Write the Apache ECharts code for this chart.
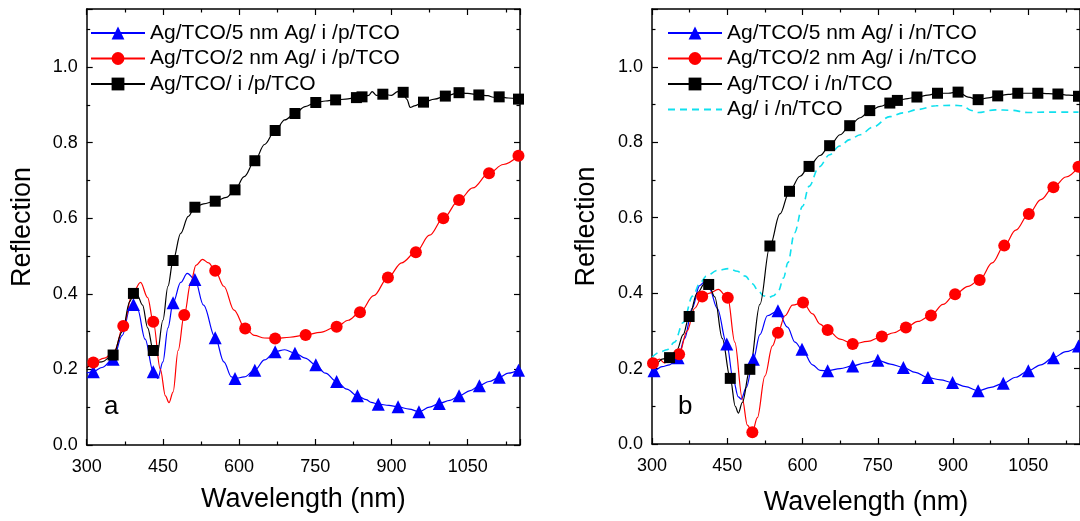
<!DOCTYPE html>
<html>
<head>
<meta charset="utf-8">
<script src="https://cdn.jsdelivr.net/npm/echarts@6/dist/echarts.min.js"></script>
<style>html,body{margin:0;padding:0;background:#fff}#c{width:1080px;height:521px}</style>
</head>
<body>
<div id="c"></div>
<script>
// ---------- DATA ----------
const xTicks = [300, 450, 600, 750, 900, 1050];
const yTicks = [0.0, 0.2, 0.4, 0.6, 0.8, 1.0];

const namesA = ['Ag/TCO/5 nm Ag/ i /p/TCO', 'Ag/TCO/2 nm Ag/ i /p/TCO', 'Ag/TCO/ i /p/TCO'];
const namesB = ['Ag/TCO/5 nm Ag/ i /n/TCO', 'Ag/TCO/2 nm Ag/ i /n/TCO', 'Ag/TCO/ i /n/TCO', 'Ag/ i /n/TCO'];

// panel a, 5 nm Ag (blue triangles)
const a5Wl = [300,313,330,352,370,385,392,400,415,431,440,450,460,470,485,498,513,530,553,570,585,592,610,631,650,671,690,710,730,751,770,792,812,833,850,860,874,895,913,935,954,975,994,1015,1033,1055,1073,1092,1112,1130,1150];
const a5R  = [0.19,0.194,0.205,0.227,0.29,0.36,0.372,0.36,0.28,0.194,0.176,0.22,0.31,0.376,0.43,0.454,0.438,0.37,0.284,0.22,0.18,0.176,0.18,0.198,0.225,0.247,0.252,0.243,0.23,0.212,0.19,0.168,0.148,0.13,0.12,0.113,0.108,0.105,0.101,0.095,0.088,0.1,0.11,0.118,0.13,0.144,0.157,0.168,0.179,0.19,0.198];
const a5Mk = [313,352,392,431,470,513,553,592,631,671,710,751,792,833,874,913,954,994,1033,1073,1112,1150];

// panel a, 2 nm Ag (red circles)
const a2Wl = [300,313,335,355,372,390,406,420,431,445,455,462,470,480,492,505,515,528,540,553,570,590,612,630,650,671,700,731,760,792,815,838,865,893,920,948,975,1002,1033,1060,1092,1120,1150];
const a2R  = [0.205,0.218,0.23,0.25,0.315,0.4,0.43,0.39,0.326,0.2,0.13,0.112,0.14,0.25,0.344,0.43,0.475,0.491,0.482,0.461,0.42,0.357,0.308,0.29,0.283,0.282,0.285,0.291,0.298,0.313,0.33,0.351,0.395,0.443,0.482,0.51,0.555,0.6,0.648,0.68,0.719,0.742,0.765];
const a2Mk = [313,372,431,492,553,612,671,731,792,838,893,948,1002,1033,1092,1150];

// panel a, no Ag interlayer (black squares)
const a0Wl = [300,330,352,370,385,392,400,410,420,431,439,450,460,470,485,500,513,530,553,575,592,610,631,650,671,690,710,730,751,770,790,810,831,842,855,862,870,883,900,912,923,930,937,945,963,985,1006,1033,1050,1072,1090,1100,1112,1130,1150];
const a0R  = [0.205,0.22,0.238,0.3,0.38,0.401,0.395,0.37,0.31,0.25,0.243,0.33,0.42,0.488,0.56,0.605,0.629,0.638,0.645,0.655,0.675,0.71,0.752,0.795,0.832,0.86,0.877,0.895,0.906,0.91,0.913,0.915,0.919,0.921,0.925,0.935,0.925,0.928,0.925,0.935,0.933,0.915,0.893,0.897,0.907,0.915,0.923,0.932,0.93,0.926,0.924,0.92,0.921,0.918,0.915];
const a0Mk = [352,392,431,470,513,553,592,631,671,710,751,790,831,842,883,923,963,1006,1033,1072,1112,1150];

// panel b, 5 nm Ag (blue triangles)
const b5Wl = [300,304,320,335,352,365,380,395,405,415,430,449,462,472,478,488,502,515,530,551,570,585,599,620,635,650,675,700,725,750,775,801,825,850,875,899,925,950,975,1000,1025,1050,1075,1100,1125,1150];
const b5R  = [0.19,0.194,0.205,0.21,0.229,0.28,0.36,0.42,0.43,0.41,0.36,0.265,0.17,0.125,0.119,0.15,0.225,0.29,0.34,0.353,0.31,0.27,0.251,0.21,0.195,0.194,0.2,0.207,0.215,0.222,0.212,0.203,0.19,0.176,0.17,0.163,0.152,0.141,0.15,0.161,0.177,0.194,0.21,0.229,0.245,0.26];
const b5Mk = [304,352,400,449,502,551,599,650,700,750,801,850,899,950,1000,1050,1100,1150];

// panel b, 2 nm Ag (red circles)
const b2Wl = [300,302,315,325,340,354,370,385,400,415,432,451,465,480,490,500,510,525,540,551,565,580,601,620,635,650,675,700,730,758,782,806,830,856,880,904,930,953,978,1002,1025,1051,1075,1100,1125,1150];
const b2R  = [0.21,0.214,0.225,0.215,0.23,0.238,0.3,0.36,0.391,0.4,0.41,0.388,0.27,0.12,0.05,0.031,0.07,0.18,0.26,0.295,0.34,0.368,0.375,0.345,0.318,0.302,0.278,0.265,0.272,0.285,0.295,0.309,0.325,0.341,0.37,0.397,0.418,0.435,0.48,0.526,0.567,0.61,0.648,0.681,0.708,0.735];
const b2Mk = [302,354,400,451,500,551,601,650,700,758,806,856,904,953,1002,1051,1100,1150];

// panel b, no Ag interlayer (black squares)
const b0Wl = [300,310,320,335,350,362,374,390,405,413,425,440,456,466,472,480,495,515,535,555,574,595,613,635,654,675,694,715,734,755,774,789,810,828,850,869,890,910,930,950,970,989,1010,1029,1050,1069,1090,1109,1130,1150];
const b0R  = [0.205,0.215,0.225,0.229,0.25,0.29,0.338,0.4,0.425,0.423,0.39,0.28,0.174,0.1,0.082,0.11,0.198,0.37,0.525,0.61,0.67,0.71,0.736,0.765,0.791,0.82,0.844,0.865,0.884,0.895,0.904,0.911,0.916,0.92,0.925,0.93,0.93,0.933,0.92,0.913,0.918,0.923,0.927,0.93,0.93,0.93,0.929,0.928,0.925,0.922];
const b0Mk = [335,374,413,456,495,535,574,613,654,694,734,774,789,828,869,910,950,989,1029,1069,1109,1150];

// panel b, Ag/ i /n/TCO (cyan dashed, no markers)
const bcWl = [300,316,330,345,362,381,395,408,430,453,470,486,500,512,522,532,542,552,562,571,584,600,613,633,654,674,694,715,740,774,800,830,866,900,919,935,950,984,1015,1049,1090,1150];
const bcR  = [0.23,0.244,0.25,0.27,0.322,0.392,0.425,0.445,0.46,0.465,0.458,0.445,0.425,0.406,0.393,0.388,0.393,0.406,0.44,0.481,0.56,0.63,0.683,0.735,0.767,0.79,0.807,0.82,0.84,0.868,0.878,0.887,0.897,0.898,0.897,0.885,0.879,0.886,0.885,0.879,0.88,0.88];
const bcMk = [];

// ---------- CHART ----------
const FONT = '"Liberation Sans", Arial, sans-serif';
const X_MAX = 1153, Y_MAX = 1.1534;
const GW = 433.3, GH = 436, GT = 9;
const gridLefts = [86.7, 652];

function build(wl, r, mk) {
  return wl.map((w, i) => mk.indexOf(w) >= 0 ? {value: [w, r[i]]} : {value: [w, r[i]], symbol: 'none'});
}

const chart = echarts.init(document.getElementById('c'), null, {renderer: 'canvas'});

const grids = gridLefts.map(l => ({left: l, top: GT, width: GW, height: GH, containLabel: false}));

function xAx(gi, top) {
  return {
    type: 'value', gridIndex: gi, position: top ? 'top' : 'bottom',
    min: 300, max: X_MAX, interval: 150,
    name: top ? '' : 'Wavelength (nm)', nameLocation: 'middle', nameGap: gi === 0 ? 41 : 45,
    nameTextStyle: {fontFamily: FONT, fontSize: 27, color: '#000'},
    axisLine: {show: true, onZero: false, lineStyle: {color: '#000', width: 1.5}},
    axisTick: {show: true, inside: true, length: 6, lineStyle: {color: '#000', width: 1.2}},
    minorTick: {show: true, splitNumber: 2, length: 3.5, lineStyle: {color: '#000', width: 1.2}},
    axisLabel: {show: !top, margin: 13, fontFamily: FONT, fontSize: 18, color: '#000',
      showMaxLabel: false,
      formatter: v => xTicks.indexOf(v) >= 0 ? String(v) : ''},
    splitLine: {show: false}
  };
}
function yAx(gi, right) {
  return {
    type: 'value', gridIndex: gi, position: right ? 'right' : 'left',
    min: 0, max: Y_MAX, interval: 0.2,
    name: right ? '' : 'Reflection', nameLocation: 'middle', nameGap: gi === 0 ? 51 : 52,
    nameTextStyle: {fontFamily: FONT, fontSize: 27, color: '#000'},
    axisLine: {show: true, onZero: false, lineStyle: {color: '#000', width: 1.5}},
    axisTick: {show: true, inside: true, length: 6, lineStyle: {color: '#000', width: 1.2}},
    minorTick: {show: true, splitNumber: 2, length: 3.5, lineStyle: {color: '#000', width: 1.2}},
    axisLabel: {show: !right, margin: 9, fontFamily: FONT, fontSize: 18, color: '#000',
      showMaxLabel: false,
      formatter: v => yTicks.some(t => Math.abs(t - v) < 1e-6) ? v.toFixed(1) : ''},
    splitLine: {show: false}
  };
}

const STY = {
  blue:  {color: '#0000ff', symbol: 'triangle', size: 13},
  red:   {color: '#ff0000', symbol: 'circle', size: 12},
  black: {color: '#000000', symbol: 'rect', size: 11}
};
function ser(name, sty, wl, r, mk, gi) {
  return {
    type: 'line', name: name, xAxisIndex: gi * 2, yAxisIndex: gi * 2,
    data: build(wl, r, mk), smooth: 0.35, smoothMonotone: 'x',
    symbol: sty.symbol, symbolSize: sty.size, showSymbol: true, showAllSymbol: true,
    lineStyle: {color: sty.color, width: 1.2},
    itemStyle: {color: sty.color},
    emphasis: {disabled: true}, animation: false, clip: true
  };
}

const series = [
  ser(namesA[0], STY.blue, a5Wl, a5R, a5Mk, 0),
  ser(namesA[1], STY.red, a2Wl, a2R, a2Mk, 0),
  ser(namesA[2], STY.black, a0Wl, a0R, a0Mk, 0),
  {
    type: 'line', name: namesB[3], xAxisIndex: 2, yAxisIndex: 2,
    data: build(bcWl, bcR, bcMk), smooth: 0.35, smoothMonotone: 'x',
    symbol: 'none', showSymbol: false,
    lineStyle: {color: '#10e0ee', width: 1.6, type: [7, 5]},
    itemStyle: {color: '#10e0ee'},
    emphasis: {disabled: true}, animation: false, clip: true
  },
  ser(namesB[0], STY.blue, b5Wl, b5R, b5Mk, 1),
  ser(namesB[1], STY.red, b2Wl, b2R, b2Mk, 1),
  ser(namesB[2], STY.black, b0Wl, b0R, b0Mk, 1)
];

const legendBase = {
  orient: 'vertical', itemWidth: 54, itemHeight: 16, itemGap: 4.5,
  textStyle: {fontFamily: FONT, fontSize: 21, color: '#000', lineHeight: 21},
  selectedMode: false, inactiveColor: '#000', padding: 0
};

chart.setOption({
  animation: false,
  backgroundColor: '#fff',
  grid: grids,
  xAxis: [xAx(0, false), xAx(0, true), xAx(1, false), xAx(1, true)],
  yAxis: [yAx(0, false), yAx(0, true), yAx(1, false), yAx(1, true)],
  legend: [
    Object.assign({}, legendBase, {left: 90, top: 22.5, data: namesA}),
    Object.assign({}, legendBase, {left: 667, top: 22.5, data: [namesB[0], namesB[1], namesB[2],
      {name: namesB[3], itemStyle: {color: 'rgba(0,0,0,0)', borderWidth: 0, opacity: 0}}]})
  ],
  graphic: [
    {type: 'text', left: 104, top: 394, style: {text: 'a', fontFamily: FONT, fontSize: 26, fill: '#000'}},
    {type: 'text', left: 678, top: 394, style: {text: 'b', fontFamily: FONT, fontSize: 26, fill: '#000'}}
  ],
  series: series
});
</script>
</body>
</html>
